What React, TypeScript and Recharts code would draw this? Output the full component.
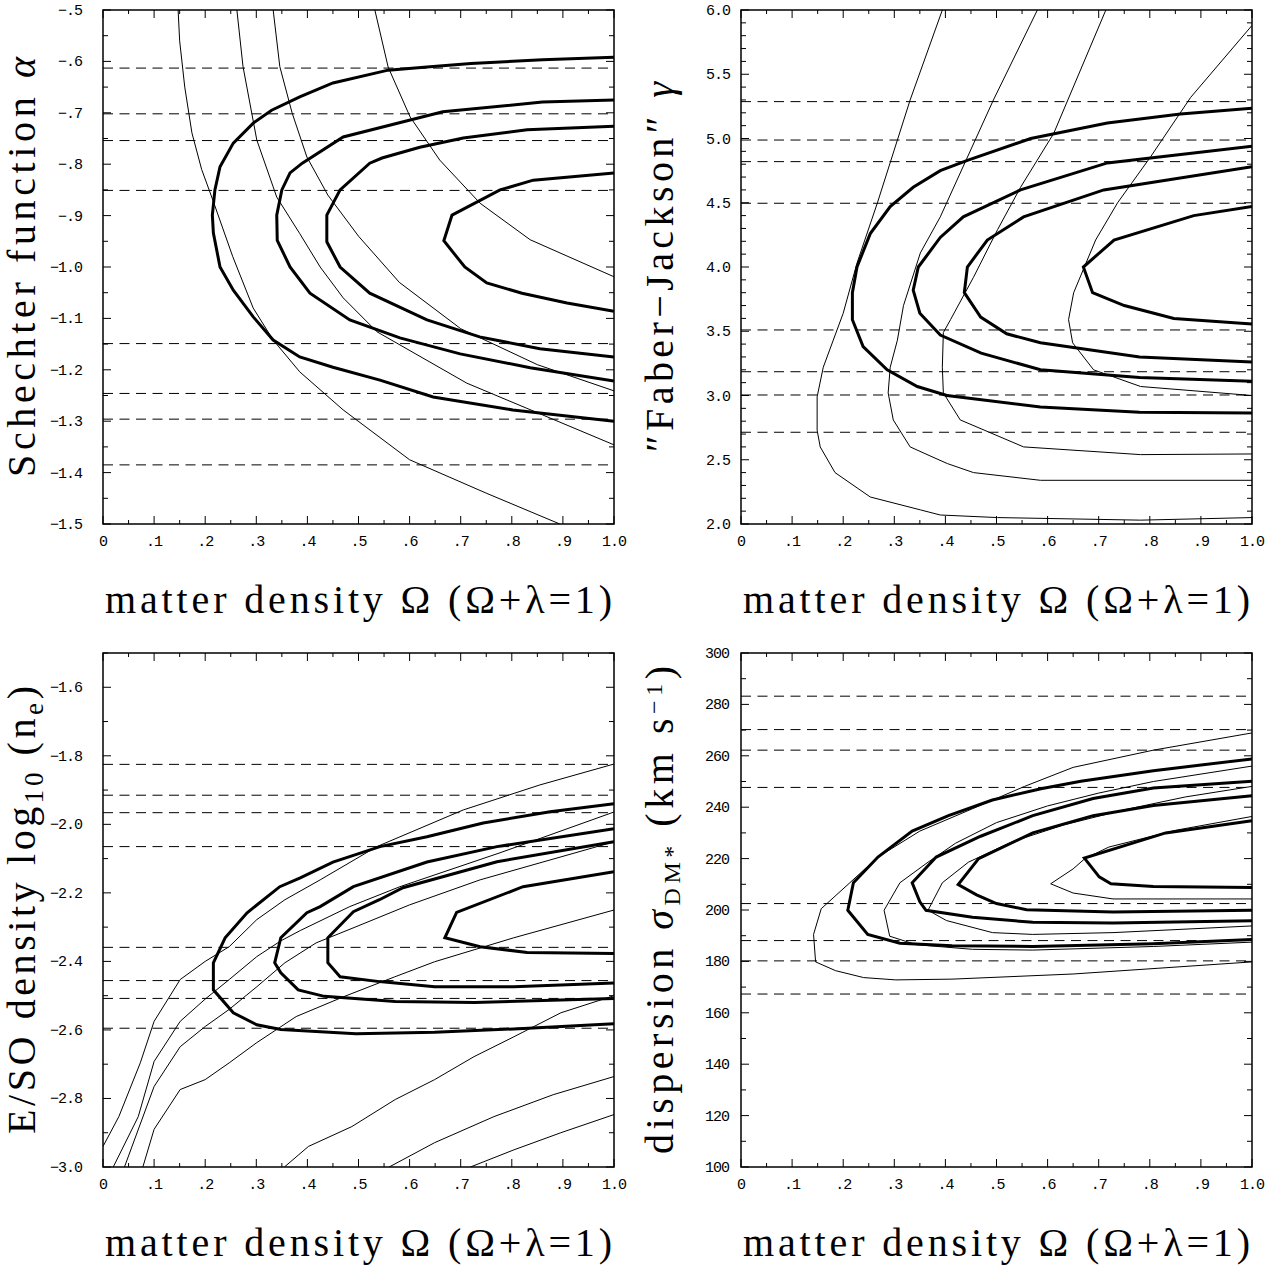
import { LineChart, Line, XAxis, YAxis, ReferenceLine, ReferenceArea } from 'recharts';

type Pt = [number, number];

// layout of one panel (all four share it)
const CHART_W = 640;
const CHART_H = 640;
const PLOT_L = 103;
const PLOT_T = 10;
const PLOT_W = 511;
const PLOT_H = 514;
const X_AXIS_H = 40;
const Y_AXIS_W = 60;

const TICK_FONT = '"Liberation Mono", "DejaVu Sans Mono", monospace';
const TITLE_FONT = '"Liberation Serif", "DejaVu Serif", serif';

const range = (lo: number, hi: number, step: number) => {
  const out: number[] = [];
  const n = Math.round((hi - lo) / step);
  for (let i = 0; i <= n; i++) out.push(Math.round((lo + i * step) * 1000) / 1000);
  return out;
};

// matter density axis, shared
const omegaTicks = range(0, 1, 0.05);
const omegaMajor = [0, 0.1, 0.2, 0.3, 0.4, 0.5, 0.6, 0.7, 0.8, 0.9, 1.0];
const omegaLabels = ['0', '.1', '.2', '.3', '.4', '.5', '.6', '.7', '.8', '.9', '1.0'];

// ---- panel 1: Schechter alpha
const alphaTicks = range(-1.5, -0.5, 0.05);
const alphaMajor = [-0.5, -0.6, -0.7, -0.8, -0.9, -1.0, -1.1, -1.2, -1.3, -1.4, -1.5];
const alphaLabels = ['−.5', '−.6', '−.7', '−.8', '−.9', '−1.0', '−1.1', '−1.2', '−1.3', '−1.4', '−1.5'];
const alphaDashed = [-0.613, -0.702, -0.754, -0.851, -1.149, -1.246, -1.296, -1.385];

const alphaThickA: Pt[] = [[1.0, -0.592], [0.86, -0.597], [0.72, -0.604], [0.634, -0.611], [0.558, -0.617], [0.45, -0.642], [0.385, -0.669], [0.33, -0.695], [0.294, -0.72], [0.255, -0.759], [0.229, -0.805], [0.219, -0.85], [0.214, -0.899], [0.216, -0.934], [0.229, -1.0], [0.255, -1.045], [0.294, -1.097], [0.333, -1.142], [0.385, -1.175], [0.45, -1.195], [0.542, -1.22], [0.646, -1.253], [0.802, -1.278], [1.0, -1.3]];
const alphaThickB: Pt[] = [[1.0, -0.675], [0.86, -0.679], [0.665, -0.698], [0.47, -0.747], [0.39, -0.798], [0.366, -0.817], [0.35, -0.85], [0.34, -0.899], [0.341, -0.948], [0.366, -1.0], [0.405, -1.051], [0.483, -1.103], [0.581, -1.138], [0.699, -1.169], [0.836, -1.196], [1.0, -1.222]];
const alphaThickC: Pt[] = [[1.0, -0.726], [0.83, -0.733], [0.705, -0.749], [0.62, -0.767], [0.546, -0.788], [0.522, -0.798], [0.464, -0.85], [0.438, -0.899], [0.438, -0.951], [0.464, -1.0], [0.522, -1.051], [0.634, -1.103], [0.737, -1.136], [0.855, -1.159], [1.0, -1.175]];
const alphaThickD: Pt[] = [[1.0, -0.817], [0.842, -0.831], [0.777, -0.85], [0.683, -0.899], [0.667, -0.949], [0.708, -1.0], [0.751, -1.031], [0.82, -1.051], [0.908, -1.07], [1.0, -1.086]];

const alphaThin1: Pt[] = [[0.147, -0.5], [0.15, -0.56], [0.16, -0.65], [0.174, -0.739], [0.193, -0.81], [0.215, -0.87], [0.254, -0.98], [0.294, -1.08], [0.333, -1.142], [0.385, -1.204], [0.47, -1.278], [0.6, -1.375], [0.75, -1.44], [0.894, -1.5]];
const alphaThin2: Pt[] = [[0.262, -0.5], [0.274, -0.61], [0.301, -0.753], [0.34, -0.864], [0.385, -0.935], [0.425, -1.0], [0.47, -1.06], [0.536, -1.126], [0.712, -1.226], [1.0, -1.346]];
const alphaThin3: Pt[] = [[0.333, -0.5], [0.346, -0.61], [0.37, -0.7], [0.399, -0.786], [0.44, -0.86], [0.5, -0.94], [0.58, -1.03], [0.7, -1.12], [0.85, -1.19], [1.0, -1.241]];
const alphaThin4: Pt[] = [[0.532, -0.5], [0.558, -0.611], [0.601, -0.708], [0.659, -0.792], [0.738, -0.876], [0.836, -0.947], [1.0, -1.019]];

// ---- panel 2: Faber-Jackson gamma
const gammaTicks = range(2, 6, 0.1);
const gammaMajor = [6, 5.5, 5, 4.5, 4, 3.5, 3, 2.5, 2];
const gammaLabels = ['6.0', '5.5', '5.0', '4.5', '4.0', '3.5', '3.0', '2.5', '2.0'];
const gammaDashed = [5.287, 4.988, 4.82, 4.496, 3.51, 3.185, 3.004, 2.714];

const gammaThickA: Pt[] = [[1.0, 5.235], [0.86, 5.19], [0.717, 5.12], [0.567, 5.0], [0.443, 4.83], [0.39, 4.75], [0.337, 4.62], [0.292, 4.47], [0.253, 4.26], [0.227, 4.0], [0.218, 3.8], [0.218, 3.59], [0.239, 3.38], [0.286, 3.2], [0.345, 3.07], [0.403, 3.0], [0.586, 2.91], [0.78, 2.87], [1.0, 2.864]];
const gammaThickB: Pt[] = [[1.0, 4.94], [0.717, 4.81], [0.547, 4.6], [0.435, 4.39], [0.39, 4.23], [0.347, 4.0], [0.337, 3.82], [0.35, 3.64], [0.39, 3.47], [0.47, 3.33], [0.586, 3.2], [0.78, 3.14], [1.0, 3.11]];
const gammaThickC: Pt[] = [[1.0, 4.78], [0.71, 4.6], [0.553, 4.39], [0.482, 4.21], [0.443, 4.0], [0.437, 3.8], [0.469, 3.61], [0.52, 3.48], [0.586, 3.41], [0.78, 3.3], [1.0, 3.26]];
const gammaThickD: Pt[] = [[1.0, 4.47], [0.886, 4.4], [0.73, 4.21], [0.67, 4.0], [0.688, 3.8], [0.75, 3.7], [0.808, 3.64], [0.847, 3.6], [1.0, 3.556]];

const gammaThin1: Pt[] = [[0.394, 6.0], [0.331, 5.3], [0.267, 4.5], [0.227, 4.03], [0.2, 3.64], [0.161, 3.22], [0.149, 2.99], [0.149, 2.73], [0.155, 2.6], [0.184, 2.4], [0.253, 2.21], [0.351, 2.11], [0.39, 2.07], [0.502, 2.05], [0.782, 2.03], [1.0, 2.05]];
const gammaThin2: Pt[] = [[0.58, 6.0], [0.494, 5.3], [0.39, 4.39], [0.351, 4.11], [0.318, 3.7], [0.306, 3.43], [0.292, 3.22], [0.288, 3.02], [0.298, 2.81], [0.331, 2.6], [0.37, 2.53], [0.404, 2.47], [0.455, 2.4], [0.586, 2.34], [1.0, 2.34]];
const gammaThin3: Pt[] = [[0.714, 6.0], [0.612, 5.04], [0.547, 4.62], [0.502, 4.29], [0.455, 3.92], [0.41, 3.59], [0.396, 3.49], [0.394, 3.22], [0.396, 3.02], [0.429, 2.81], [0.553, 2.6], [0.782, 2.54], [1.0, 2.545]];
const gammaThin4: Pt[] = [[1.0, 5.88], [0.88, 5.32], [0.802, 4.86], [0.737, 4.5], [0.694, 4.21], [0.651, 3.8], [0.641, 3.59], [0.649, 3.41], [0.69, 3.2], [0.782, 3.07], [1.0, 3.0]];

// ---- panel 3: E/S0 density
const densTicks = range(-3, -1.5, 0.1);
const densMajor = [-1.6, -1.8, -2.0, -2.2, -2.4, -2.6, -2.8, -3.0];
const densLabels = ['−1.6', '−1.8', '−2.0', '−2.2', '−2.4', '−2.6', '−2.8', '−3.0'];
const densDashed = [-1.825, -1.915, -1.966, -2.065, -2.359, -2.456, -2.508, -2.595];

const densThickA: Pt[] = [[1.0, -1.94], [0.875, -1.963], [0.744, -1.996], [0.634, -2.036], [0.542, -2.065], [0.45, -2.11], [0.386, -2.156], [0.346, -2.182], [0.282, -2.258], [0.239, -2.331], [0.216, -2.404], [0.216, -2.483], [0.255, -2.55], [0.301, -2.585], [0.348, -2.599], [0.495, -2.611], [0.649, -2.607], [0.804, -2.597], [1.0, -2.582]];
const densThickB: Pt[] = [[1.0, -2.013], [0.771, -2.065], [0.634, -2.11], [0.49, -2.182], [0.425, -2.24], [0.399, -2.258], [0.348, -2.331], [0.336, -2.404], [0.348, -2.433], [0.382, -2.483], [0.433, -2.502], [0.572, -2.517], [0.727, -2.52], [1.0, -2.508]];
const densThickC: Pt[] = [[1.0, -2.051], [0.771, -2.109], [0.587, -2.185], [0.541, -2.22], [0.49, -2.255], [0.44, -2.331], [0.44, -2.404], [0.464, -2.445], [0.541, -2.459], [0.649, -2.474], [0.804, -2.474], [1.0, -2.463]];
const densThickD: Pt[] = [[1.0, -2.138], [0.822, -2.182], [0.692, -2.257], [0.669, -2.331], [0.738, -2.357], [0.83, -2.374], [1.0, -2.377]];

const densThin1: Pt[] = [[0, -2.94], [0.031, -2.853], [0.073, -2.696], [0.1, -2.575], [0.151, -2.453], [0.2, -2.4], [0.247, -2.357], [0.301, -2.278], [0.356, -2.22], [0.425, -2.162], [0.536, -2.065], [0.705, -1.958], [0.855, -1.885], [1.0, -1.824]];
const densThin2: Pt[] = [[0.02, -3.0], [0.069, -2.853], [0.1, -2.692], [0.151, -2.575], [0.2, -2.51], [0.247, -2.453], [0.301, -2.386], [0.348, -2.34], [0.386, -2.31], [0.483, -2.24], [0.581, -2.182], [0.777, -2.083], [1.0, -1.964]];
const densThin3: Pt[] = [[0.042, -3.0], [0.1, -2.765], [0.151, -2.649], [0.2, -2.59], [0.247, -2.54], [0.301, -2.474], [0.356, -2.404], [0.417, -2.346], [0.495, -2.299], [0.6, -2.235], [0.738, -2.162], [1.0, -2.051]];
const densThin4: Pt[] = [[0.078, -3.0], [0.1, -2.89], [0.151, -2.774], [0.2, -2.745], [0.247, -2.696], [0.301, -2.637], [0.378, -2.561], [0.471, -2.503], [0.571, -2.445], [0.649, -2.401], [0.804, -2.331], [1.0, -2.25]];
const densThin5: Pt[] = [[0.355, -3.0], [0.402, -2.94], [0.487, -2.882], [0.572, -2.803], [0.649, -2.745], [0.726, -2.678], [0.804, -2.62], [0.896, -2.55], [1.0, -2.5]];
const densThin6: Pt[] = [[0.56, -3.0], [0.649, -2.929], [0.765, -2.853], [0.881, -2.789], [1.0, -2.736]];
const densThin7: Pt[] = [[0.719, -3.0], [0.804, -2.95], [0.896, -2.9], [1.0, -2.847]];

// ---- panel 4: velocity dispersion
const sigmaTicks = range(100, 300, 10);
const sigmaMajor = [300, 280, 260, 240, 220, 200, 180, 160, 140, 120, 100];
const sigmaLabels = ['300', '280', '260', '240', '220', '200', '180', '160', '140', '120', '100'];
const sigmaDashed = [283.2, 270.2, 262.2, 247.7, 202.5, 188.1, 180.2, 167.3];

const sigmaThickA: Pt[] = [[1.0, 258.8], [0.807, 254.2], [0.665, 250.1], [0.587, 247.2], [0.492, 242.8], [0.406, 236.7], [0.335, 230.7], [0.268, 220.6], [0.22, 210.6], [0.209, 199.9], [0.248, 190.5], [0.311, 187.1], [0.413, 186.1], [0.571, 185.8], [0.807, 186.9], [1.0, 188.5]];
const sigmaThickB: Pt[] = [[1.0, 250.1], [0.807, 247.5], [0.689, 243.4], [0.571, 236.7], [0.469, 228.7], [0.382, 220.6], [0.335, 210.6], [0.35, 203.2], [0.362, 199.9], [0.453, 197.2], [0.571, 195.2], [0.728, 194.9], [1.0, 195.8]];
const sigmaThickC: Pt[] = [[1.0, 244.5], [0.807, 240.7], [0.689, 236.7], [0.571, 230.0], [0.465, 220.0], [0.425, 209.9], [0.461, 205.9], [0.5, 202.5], [0.559, 200.1], [0.728, 199.2], [1.0, 199.9]];
const sigmaThickD: Pt[] = [[1.0, 234.7], [0.831, 230.0], [0.672, 220.2], [0.701, 212.9], [0.724, 210.2], [0.807, 209.1], [1.0, 208.8]];

const sigmaThin1: Pt[] = [[1.0, 268.9], [0.807, 262.2], [0.65, 255.5], [0.555, 248.1], [0.453, 239.4], [0.35, 230.7], [0.268, 220.6], [0.213, 210.6], [0.157, 200.5], [0.142, 190.5], [0.146, 179.8], [0.185, 176.4], [0.24, 173.7], [0.303, 172.8], [0.413, 173.1], [0.65, 175.1], [1.0, 179.8]];
const sigmaThin2: Pt[] = [[1.0, 256.0], [0.807, 250.0], [0.7, 245.5], [0.6, 240.5], [0.5, 234.0], [0.42, 226.0], [0.366, 218.6], [0.311, 210.6], [0.28, 199.9], [0.291, 189.8], [0.343, 186.5], [0.453, 184.7], [0.571, 184.4], [0.807, 185.8], [1.0, 187.5]];
const sigmaThin3: Pt[] = [[1.0, 248.1], [0.87, 244.0], [0.75, 239.0], [0.63, 233.0], [0.53, 226.5], [0.445, 218.6], [0.394, 210.6], [0.366, 199.9], [0.402, 195.9], [0.492, 191.2], [0.571, 190.5], [0.728, 191.2], [1.0, 193.8]];
const sigmaThin4: Pt[] = [[1.0, 236.4], [0.85, 231.0], [0.72, 224.5], [0.673, 220.0], [0.65, 216.0], [0.606, 210.2], [0.65, 206.6], [0.728, 204.3], [1.0, 204.3]];

type PanelCfg = {
  left: number;
  top: number;
  yDomain: [number, number];
  yTicks: number[];
  yMajor: number[];
  yLabels: string[];
  labelGap: number;
  dashed: number[];
  thick: Pt[][];
  thin: Pt[][];
  title: 'alpha' | 'gamma' | 'dens' | 'sigma';
  titleLen: number;
};

const panels: PanelCfg[] = [
  { left: 0, top: 0, yDomain: [-1.5, -0.5], yTicks: alphaTicks, yMajor: alphaMajor, yLabels: alphaLabels, labelGap: 21, dashed: alphaDashed, thick: [alphaThickA, alphaThickB, alphaThickC, alphaThickD], thin: [alphaThin1, alphaThin2, alphaThin3, alphaThin4], title: 'alpha', titleLen: 420 },
  { left: 638, top: 0, yDomain: [2, 6], yTicks: gammaTicks, yMajor: gammaMajor, yLabels: gammaLabels, labelGap: 11, dashed: gammaDashed, thick: [gammaThickA, gammaThickB, gammaThickC, gammaThickD], thin: [gammaThin1, gammaThin2, gammaThin3, gammaThin4], title: 'gamma', titleLen: 370 },
  { left: 0, top: 643, yDomain: [-3, -1.5], yTicks: densTicks, yMajor: densMajor, yLabels: densLabels, labelGap: 21, dashed: densDashed, thick: [densThickA, densThickB, densThickC, densThickD], thin: [densThin1, densThin2, densThin3, densThin4, densThin5, densThin6, densThin7], title: 'dens', titleLen: 448 },
  { left: 638, top: 643, yDomain: [100, 300], yTicks: sigmaTicks, yMajor: sigmaMajor, yLabels: sigmaLabels, labelGap: 12, dashed: sigmaDashed, thick: [sigmaThickA, sigmaThickB, sigmaThickC, sigmaThickD], thin: [sigmaThin1, sigmaThin2, sigmaThin3, sigmaThin4], title: 'sigma', titleLen: 488 },
];

const toData = (pts: Pt[]) => pts.map(([x, y]) => ({ x, y }));
const findMajor = (list: number[], v: number) => list.findIndex((m) => Math.abs(m - v) < 1e-6);

const renderXTick = (props: any) => {
  const x = props.x;
  const idx = findMajor(omegaMajor, props.payload.value);
  const len = idx >= 0 ? 8 : 4;
  const bottom = PLOT_T + PLOT_H;
  return (
    <g>
      <line x1={x} x2={x} y1={bottom} y2={bottom - len} stroke="#000" strokeWidth={1} />
      <line x1={x} x2={x} y1={PLOT_T} y2={PLOT_T + len} stroke="#000" strokeWidth={1} />
      {idx >= 0 && (
        <text x={x} y={bottom + 22} textAnchor="middle" fontFamily={TICK_FONT} fontSize={15} letterSpacing={-1} fill="#000">
          {omegaLabels[idx]}
        </text>
      )}
    </g>
  );
};

const makeYTick = (cfg: PanelCfg) => (props: any) => {
  const y = props.y;
  const idx = findMajor(cfg.yMajor, props.payload.value);
  const len = idx >= 0 ? 8 : 5;
  const right = PLOT_L + PLOT_W;
  return (
    <g>
      <line x1={PLOT_L} x2={PLOT_L + len} y1={y} y2={y} stroke="#000" strokeWidth={1} />
      <line x1={right} x2={right - len} y1={y} y2={y} stroke="#000" strokeWidth={1} />
      {idx >= 0 && (
        <text x={PLOT_L - cfg.labelGap} y={y + 5} textAnchor="end" fontFamily={TICK_FONT} fontSize={15} letterSpacing={-1} fill="#000">
          {cfg.yLabels[idx]}
        </text>
      )}
    </g>
  );
};

const XTitle = () => (
  <text
    x={PLOT_L + PLOT_W / 2}
    y={PLOT_T + PLOT_H + 89}
    textAnchor="middle"
    fontFamily={TITLE_FONT}
    fontSize={40}
    fill="#000"
    textLength={507}
    lengthAdjust="spacing"
  >
    matter density Ω (Ω+λ=1)
  </text>
);

const YTitle = ({ kind, len }: { kind: string; len: number }) => {
  const cy = PLOT_T + PLOT_H / 2;
  let body;
  if (kind === 'alpha') {
    body = (
      <>
        Schechter function <tspan fontStyle="italic">α</tspan>
      </>
    );
  } else if (kind === 'gamma') {
    body = (
      <>
        ″Faber−Jackson″ <tspan fontStyle="italic">γ</tspan>
      </>
    );
  } else if (kind === 'dens') {
    body = (
      <>
        E/SO density log<tspan dy={8} fontSize={27}>10</tspan>
        <tspan dy={-8}> (n</tspan>
        <tspan dy={8} fontSize={27}>e</tspan>
        <tspan dy={-8}>)</tspan>
      </>
    );
  } else {
    body = (
      <>
        dispersion <tspan fontStyle="italic">σ</tspan>
        <tspan dy={7} fontSize={24}>DM*</tspan>
        <tspan dy={-7}> (km s</tspan>
        <tspan dy={-11} fontSize={24}>−1</tspan>
        <tspan dy={11}>)</tspan>
      </>
    );
  }
  return (
    <text
      transform={`translate(${PLOT_L - 68}, ${cy}) rotate(-90)`}
      textAnchor="middle"
      fontFamily={TITLE_FONT}
      fontSize={40}
      fill="#000"
      textLength={len}
      lengthAdjust="spacing"
    >
      {body}
    </text>
  );
};

const Panel = ({ cfg }: { cfg: PanelCfg }) => (
  <div style={{ position: 'absolute', left: cfg.left, top: cfg.top, width: CHART_W, height: CHART_H }}>
    <LineChart
      width={CHART_W}
      height={CHART_H}
      style={{ overflow: 'visible' }}
      margin={{
        top: PLOT_T,
        right: CHART_W - PLOT_L - PLOT_W,
        bottom: CHART_H - PLOT_T - PLOT_H - X_AXIS_H,
        left: PLOT_L - Y_AXIS_W,
      }}
    >
      <XAxis
        type="number"
        dataKey="x"
        domain={[0, 1]}
        ticks={omegaTicks}
        interval={0}
        allowDataOverflow
        height={X_AXIS_H}
        axisLine={false}
        tickLine={false}
        tickSize={0}
        tickMargin={0}
        tick={renderXTick}
        label={<XTitle />}
      />
      <YAxis
        type="number"
        domain={cfg.yDomain}
        ticks={cfg.yTicks}
        interval={0}
        allowDataOverflow
        width={Y_AXIS_W}
        axisLine={false}
        tickLine={false}
        tickSize={0}
        tickMargin={0}
        tick={makeYTick(cfg)}
        label={<YTitle kind={cfg.title} len={cfg.titleLen} />}
      />
      <ReferenceArea x1={0} x2={1} y1={cfg.yDomain[0]} y2={cfg.yDomain[1]} fill="none" stroke="#000" strokeWidth={1.5} />
      {cfg.dashed.map((v) => (
        <ReferenceLine key={`d${v}`} y={v} stroke="#000" strokeWidth={1} strokeDasharray="10 6.5" />
      ))}
      {cfg.thin.map((pts, i) => (
        <Line
          key={`t${i}`}
          data={toData(pts)}
          dataKey="y"
          type="linear"
          stroke="#000"
          strokeWidth={1}
          dot={false}
          activeDot={false}
          isAnimationActive={false}
        />
      ))}
      {cfg.thick.map((pts, i) => (
        <Line
          key={`k${i}`}
          data={toData(pts)}
          dataKey="y"
          type="linear"
          stroke="#000"
          strokeWidth={3}
          dot={false}
          activeDot={false}
          isAnimationActive={false}
        />
      ))}
    </LineChart>
  </div>
);

export default function App() {
  return (
    <div style={{ position: 'absolute', left: 0, top: 0, width: 1279, height: 1268, background: '#fff' }}>
      {panels.map((p) => (
        <Panel key={p.title} cfg={p} />
      ))}
    </div>
  );
}
